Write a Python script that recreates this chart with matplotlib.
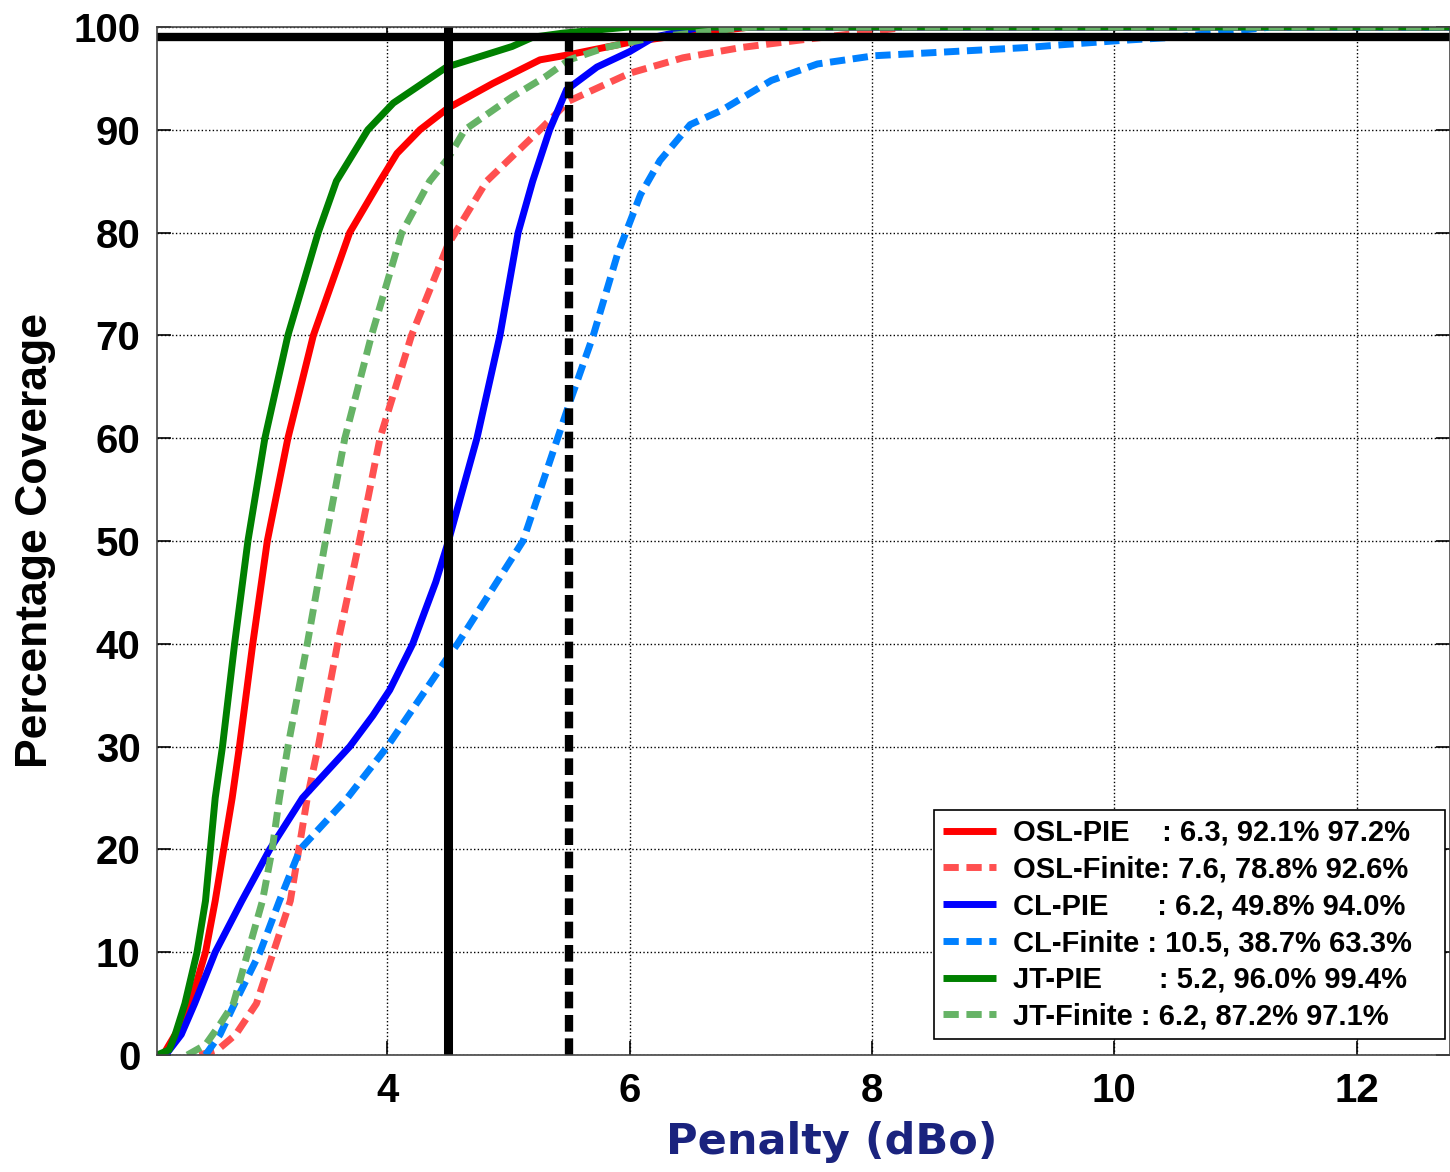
import numpy as np
import matplotlib
matplotlib.use("Agg")
import matplotlib.pyplot as plt

# penalty (dBo) values read at given coverage levels
osl_pie_x = [2.15, 2.3, 2.4, 2.5, 2.58, 2.65, 2.72, 2.78, 2.89, 3.01, 3.18, 3.39, 3.69, 3.94, 4.08, 4.27, 4.5, 4.87, 5.26, 5.5, 6.0, 6.3, 7.0, 12.8]
osl_pie_y = [0, 3, 6, 10, 15, 20, 25, 30, 40, 50, 60, 70, 80, 85, 87.7, 90, 92.1, 94.5, 96.8, 97.3, 98.5, 99, 100, 100]

osl_fin_x = [2.45, 2.6, 2.75, 2.92, 3.06, 3.2, 3.27, 3.34, 3.43, 3.59, 3.77, 3.94, 4.2, 4.5, 4.82, 5.26, 5.5, 6.0, 6.44, 6.92, 7.39, 7.6, 8.3, 12.8]
osl_fin_y = [0, 0.5, 2, 5, 10, 15, 20, 25, 30, 40, 50, 60, 70, 78.8, 85, 90, 92.8, 95.5, 97.0, 98.0, 98.7, 99, 100, 100]

cl_pie_x = [2.17, 2.3, 2.41, 2.58, 2.8, 3.03, 3.3, 3.69, 3.88, 4.02, 4.21, 4.4, 4.5, 4.74, 4.93, 5.08, 5.2, 5.34, 5.48, 5.73, 6.0, 6.2, 6.6, 12.8]
cl_pie_y = [0, 2, 5, 10, 15, 20, 25, 30, 33, 35.5, 40, 46, 49.8, 60, 70, 80, 85, 90, 93.9, 96.1, 97.6, 99, 100, 100]

cl_fin_x = [2.5, 2.62, 2.74, 2.95, 3.11, 3.28, 3.67, 4.0, 4.5, 4.58, 5.12, 5.5, 5.7, 5.9, 6.09, 6.25, 6.5, 6.76, 7.17, 7.55, 8.02, 8.5, 8.81, 9.28, 9.6, 10.07, 10.5, 11.3, 12.8]
cl_fin_y = [0, 2, 5, 10, 15, 20, 25, 30, 38.7, 40, 50, 63.3, 70, 77.9, 83.7, 87, 90.5, 91.9, 94.8, 96.4, 97.2, 97.5, 97.7, 98.0, 98.3, 98.7, 99, 100, 100]

jt_pie_x = [2.1, 2.2, 2.25, 2.33, 2.43, 2.5, 2.54, 2.58, 2.64, 2.74, 2.85, 2.99, 3.18, 3.43, 3.58, 3.84, 4.05, 4.49, 5.03, 5.2, 5.45, 6.0, 12.8]
jt_pie_y = [0, 0.5, 2, 5, 10, 15, 20, 25, 30, 40, 50, 60, 70, 80, 85, 90, 92.6, 96.1, 98.1, 99, 99.4, 100, 100]

jt_fin_x = [2.35, 2.5, 2.62, 2.73, 2.85, 2.97, 3.05, 3.11, 3.18, 3.34, 3.49, 3.65, 3.87, 4.12, 4.35, 4.5, 4.64, 5.03, 5.31, 5.5, 5.8, 6.2, 7.0, 12.8]
jt_fin_y = [0, 1, 3, 5, 10, 15, 20, 25, 30, 40, 50, 60, 70, 80, 85, 87.2, 90, 93.2, 95.2, 96.8, 98, 99, 100, 100]

labels = ["OSL-PIE    : 6.3, 92.1% 97.2%",
          "OSL-Finite: 7.6, 78.8% 92.6%",
          "CL-PIE      : 6.2, 49.8% 94.0%",
          "CL-Finite : 10.5, 38.7% 63.3%   ",
          "JT-PIE       : 5.2, 96.0% 99.4%",
          "JT-Finite : 6.2, 87.2% 97.1%"]

x_ticks = [4, 6, 8, 10, 12]
y_ticks = list(range(0, 101, 10))
ref_x = [4.5, 5.5]
ref_y = 99

plt.rcParams['font.family'] = ['Liberation Sans', 'DejaVu Sans']
plt.rcParams['font.weight'] = 'bold'

fig = plt.figure(figsize=(14.5, 11.72), dpi=100)
ax = fig.add_axes([0.1083, 0.0998, 0.8917, 0.8772])

lw = 5
dash = (2.2, 1.1)
series = [
    (osl_pie_x, osl_pie_y, "#ff0000", "-"),
    (osl_fin_x, osl_fin_y, "#ff5050", "--"),
    (cl_pie_x, cl_pie_y, "#0000ff", "-"),
    (cl_fin_x, cl_fin_y, "#0080ff", "--"),
    (jt_pie_x, jt_pie_y, "#008000", "-"),
    (jt_fin_x, jt_fin_y, "#66b366", "--"),
]
for (xs, ys, c, ls), lab in zip(series, labels):
    line, = ax.plot(xs, ys, color=c, lw=lw, ls=ls, label=lab, solid_capstyle='butt')
    if ls == "--":
        line.set_dashes(dash)

ax.axvline(ref_x[0], color="black", lw=6.5)
vl = ax.axvline(ref_x[1], color="black", lw=6, ls="--")
vl.set_dashes((2.0, 0.8))
ax.axhline(ref_y, color="black", lw=6)

ax.set_xlim(2.1, 12.77)
ax.set_ylim(0, 100)
ax.set_xticks(x_ticks)
ax.set_yticks(y_ticks)
ax.grid(True, ls=":", color="black", lw=1)
ax.tick_params(direction="in", length=10, width=1.2, labelsize=29, top=True, right=True, pad=12)
for sp in ax.spines.values():
    sp.set_color("#444444")
    sp.set_linewidth(1.2)

ax.set_xlabel("Penalty (dBo)", fontsize=31, color="#1a237e", family=['DejaVu Sans'], fontweight='bold')
ax.xaxis.set_label_coords(0.522, -0.064)
ax.set_ylabel("Percentage Coverage", fontsize=32, fontweight='bold')
ax.yaxis.set_label_coords(-0.078, 0.5)

leg = ax.legend(loc="lower right", bbox_to_anchor=(0.9985, 0.0125),
                prop={'weight': 'bold', 'size': 21},
                fancybox=False, framealpha=1, edgecolor="black", handlelength=1.8,
                labelspacing=0.3, borderpad=0.3, handletextpad=0.6, borderaxespad=0.1)
leg.get_frame().set_linewidth(1.2)

fig.savefig("out.png", dpi=100)
